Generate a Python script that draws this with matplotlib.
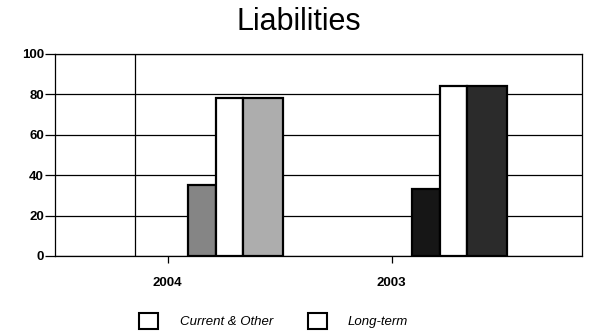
import numpy as np
import matplotlib.pyplot as plt
from matplotlib.patches import Patch

years = ['2004', '2003']
current_other = [35, 33]
long_term = [78, 84]
total = [78, 84]

plt.rcParams['font.family'] = ['Liberation Sans', 'DejaVu Sans']

fig = plt.figure(figsize=(5.9, 3.35), dpi=100)
ax = fig.add_axes([0.093, 0.236, 0.893, 0.603])

x = np.arange(len(years))

# grey shades per year, darker for the later column
current_colors = ['#858585', '#161616']
total_colors = ['#adadad', '#2b2b2b']

ax.bar(x + 0.089, current_other, 0.127, align='edge', color=current_colors,
       edgecolor='black', linewidth=1.6, zorder=3)
ax.bar(x + 0.216, long_term, 0.122, align='edge', color='white',
       edgecolor='black', linewidth=1.6, zorder=3)
ax.bar(x + 0.338, total, 0.176, align='edge', color=total_colors,
       edgecolor='black', linewidth=1.6, zorder=3)

ax.set_xlim(-0.504, 1.848)
ax.set_ylim(0, 100)
ax.set_yticks(range(0, 101, 20))
ax.set_xticks(x)
ax.set_xticklabels(years)
ax.grid(axis='y', color='black', linewidth=0.9, zorder=1)
ax.axvline(-0.147, color='black', linewidth=0.9, zorder=1)

for s in ax.spines.values():
    s.set_linewidth(0.9)
ax.tick_params(axis='y', length=7, width=0.9, labelsize=9.5, pad=1)
ax.tick_params(axis='x', length=5, width=0.9, labelsize=9.5, pad=10)
for lbl in ax.get_yticklabels() + ax.get_xticklabels():
    lbl.set_fontweight('bold')

fig.text(0.507, 1 - 30 / 335, 'Liabilities', ha='center', va='baseline',
         fontsize=22)

handles = [Patch(facecolor='white', edgecolor='black', linewidth=1.5),
           Patch(facecolor='white', edgecolor='black', linewidth=1.5)]
fig.legend(handles, ['Current & Other', 'Long-term'], loc='center',
           bbox_to_anchor=(0.464, 0.042), ncol=2, frameon=False,
           prop={'style': 'italic', 'size': 9.5}, handlelength=1.45,
           handleheight=1.4, columnspacing=2.65, handletextpad=1.6)

plt.savefig('out.png', dpi=100)
